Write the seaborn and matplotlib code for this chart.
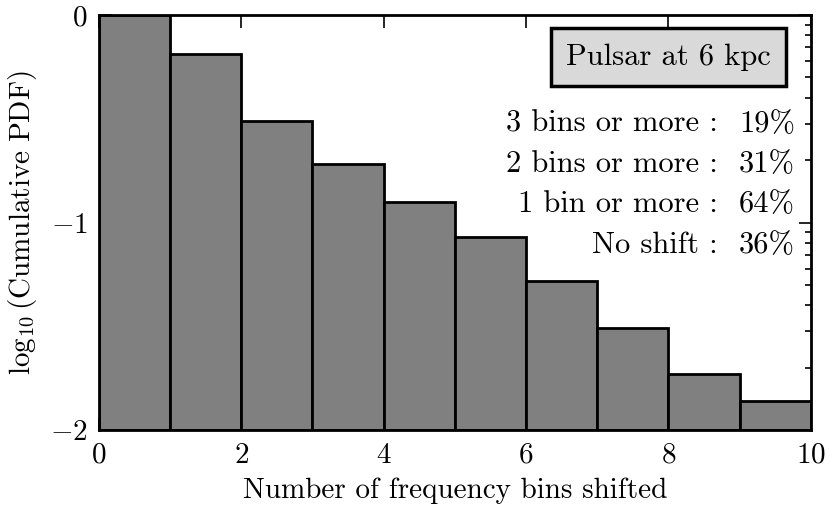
import numpy as np
import pandas as pd
import seaborn as sns
import matplotlib.pyplot as plt
from matplotlib.ticker import FixedLocator

# log10 of cumulative PDF per shift bin
bin_edges = [0, 1, 2, 3, 4, 5, 6, 7, 8, 9]
log_cum_pdf = [0.0, -0.19, -0.51, -0.72, -0.90, -1.07, -1.28, -1.51, -1.73, -1.86]
floor = -2

stat_labels = ["3 bins or more :", "2 bins or more :", "1 bin or more :", "No shift :"]
stat_values = ["19%", "31%", "64%", "36%"]
title_text = "Pulsar at 6 kpc"

sns.set_style("ticks")
plt.rcParams["font.family"] = ["cmr10", "DejaVu Serif"]
plt.rcParams["mathtext.fontset"] = "cm"
plt.rcParams["axes.formatter.use_mathtext"] = True
plt.rcParams["axes.unicode_minus"] = True
plt.rcParams["text.color"] = "black"
plt.rcParams["axes.labelcolor"] = "black"

df = pd.DataFrame({"shift": np.array(bin_edges) + 0.5, "val": log_cum_pdf})
df["height"] = df["val"] - floor

fig, ax = plt.subplots(figsize=(8.3, 5.09), dpi=100)
fig.subplots_adjust(left=0.119, right=0.977, top=0.9705, bottom=0.155)

sns.barplot(data=df, x="shift", y="height", native_scale=True, width=1,
            bottom=floor, color="#808080", saturation=1,
            edgecolor="black", linewidth=2, ax=ax)

ax.set_xlim(0, 10)
ax.set_ylim(-2, 0)
ax.set_xticks([0, 2, 4, 6, 8, 10])
ax.set_yticks([-2, -1, 0])
minors = [d + np.log10(k / 10) for d in (0, -1) for k in range(2, 10)]
ax.yaxis.set_minor_locator(FixedLocator(minors))
ax.tick_params(which="both", direction="in", top=True, right=True,
               labelsize=21, width=1.2, color="black", labelcolor="black")
ax.tick_params(axis="x", pad=9)
ax.tick_params(axis="y", pad=8)
ax.tick_params(which="major", length=9)
ax.tick_params(which="minor", length=4.5)
for sp in ax.spines.values():
    sp.set_linewidth(2)
    sp.set_color("black")

ax.set_xlabel("Number of frequency bins shifted", fontsize=21, labelpad=6)
ax.set_ylabel(r"$\log_{10}(\mathrm{Cumulative\ PDF})$", fontsize=21, labelpad=8)

ax.text(0.80, 0.899, title_text, transform=ax.transAxes, fontsize=22,
        ha="center", va="center",
        bbox=dict(boxstyle="square,pad=0.5", facecolor="#d9d9d9",
                  edgecolor="black", linewidth=2.5))
for i, (lab, val) in enumerate(zip(stat_labels, stat_values)):
    y = 0.737 - i * 0.097
    ax.text(0.9775, y, val, transform=ax.transAxes, fontsize=22,
            ha="right", va="center")
    ax.text(0.869, y, lab, transform=ax.transAxes, fontsize=22,
            ha="right", va="center")

fig.savefig("out.png", dpi=100)
